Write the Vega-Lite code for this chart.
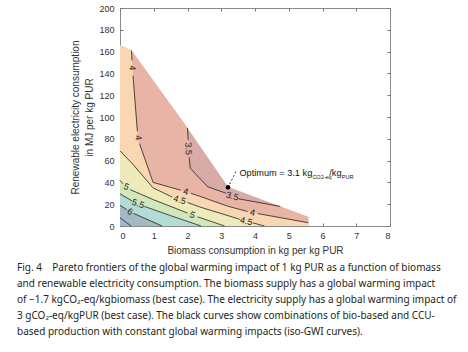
{
  "$schema": "https://vega.github.io/schema/vega-lite/v6.json",
  "width": 270,
  "height": 218,
  "autosize": {"type": "none"},
  "padding": {"left": 120, "top": 8, "right": 78, "bottom": 126},
  "background": "white",
  "config": {
    "view": {"stroke": "#8a8a8a", "strokeWidth": 1},
    "font": "Liberation Sans"
  },
  "title": {
    "text": "Fig. 4\u00a0\u00a0\u00a0\u00a0Pareto frontiers of the global warming impact of 1 kg PUR as a function of biomass",
    "subtitle": [
      "and renewable electricity consumption. The biomass supply has a global warming impact",
      "of \u22121.7 kgCO\u2082-eq/kgbiomass (best case). The electricity supply has a global warming impact of",
      "3 gCO\u2082-eq/kgPUR (best case). The black curves show combinations of bio-based and CCU-",
      "based production with constant global warming impacts (iso-GWI curves)."
    ],
    "orient": "bottom",
    "anchor": "start",
    "frame": "group",
    "dx": -103,
    "offset": 8,
    "font": "Noto Sans",
    "fontSize": 10,
    "fontWeight": "normal",
    "color": "#231f20",
    "subtitleFont": "Noto Sans",
    "subtitleFontSize": 10,
    "subtitleColor": "#231f20",
    "subtitleLineHeight": 16,
    "subtitlePadding": 6
  },
  "datasets": {
    "bands": [
      {"b": "b0", "x": 0, "y": 166}, {"b": "b0", "x": 0.34, "y": 161}, {"b": "b0", "x": 2.0, "y": 90}, {"b": "b0", "x": 3.2, "y": 36}, {"b": "b0", "x": 5.58, "y": 8.3},
      {"b": "b35", "x": 0, "y": 166}, {"b": "b35", "x": 0.34, "y": 161}, {"b": "b35", "x": 2.0, "y": 90}, {"b": "b35", "x": 2.04, "y": 71}, {"b": "b35", "x": 2.08, "y": 53}, {"b": "b35", "x": 2.6, "y": 36}, {"b": "b35", "x": 3.15, "y": 30}, {"b": "b35", "x": 3.5, "y": 25}, {"b": "b35", "x": 4.75, "y": 18}, {"b": "b35", "x": 5.58, "y": 8.3},
      {"b": "b4", "x": 0, "y": 166}, {"b": "b4", "x": 0.34, "y": 161}, {"b": "b4", "x": 0.37, "y": 145}, {"b": "b4", "x": 0.53, "y": 79}, {"b": "b4", "x": 0.98, "y": 40}, {"b": "b4", "x": 1.95, "y": 31.5}, {"b": "b4", "x": 2.36, "y": 27.3}, {"b": "b4", "x": 3.2, "y": 18.1}, {"b": "b4", "x": 3.93, "y": 12.3}, {"b": "b4", "x": 5.58, "y": 3},
      {"b": "b45", "x": 0, "y": 69}, {"b": "b45", "x": 0.4, "y": 56}, {"b": "b45", "x": 0.98, "y": 35}, {"b": "b45", "x": 1.77, "y": 24.3}, {"b": "b45", "x": 2.36, "y": 17.5}, {"b": "b45", "x": 3.2, "y": 9.5}, {"b": "b45", "x": 3.74, "y": 4.3}, {"b": "b45", "x": 4.28, "y": 0},
      {"b": "b5", "x": 0, "y": 42}, {"b": "b5", "x": 0.19, "y": 35}, {"b": "b5", "x": 1.0, "y": 24}, {"b": "b5", "x": 2.15, "y": 10}, {"b": "b5", "x": 3.1, "y": 0},
      {"b": "b55", "x": 0, "y": 29.5}, {"b": "b55", "x": 0.53, "y": 20}, {"b": "b55", "x": 1.5, "y": 9.5}, {"b": "b55", "x": 2.4, "y": 0},
      {"b": "b6", "x": 0, "y": 19}, {"b": "b6", "x": 0.3, "y": 13}, {"b": "b6", "x": 1.25, "y": 0},
      {"b": "b65", "x": 0, "y": 7.5}, {"b": "b65", "x": 0.33, "y": 0}
    ],
    "lines": [
      {"s": "c35a", "i": 1, "x": 2.0, "y": 90}, {"s": "c35a", "i": 2, "x": 2.02, "y": 79},
      {"s": "c35b", "i": 1, "x": 2.05, "y": 63}, {"s": "c35b", "i": 2, "x": 2.08, "y": 53}, {"s": "c35b", "i": 3, "x": 2.6, "y": 36}, {"s": "c35b", "i": 4, "x": 3.15, "y": 30},
      {"s": "c35c", "i": 1, "x": 3.5, "y": 25}, {"s": "c35c", "i": 2, "x": 4.75, "y": 18},
      {"s": "c4a", "i": 1, "x": 0.34, "y": 161}, {"s": "c4a", "i": 2, "x": 0.355, "y": 152},
      {"s": "c4b", "i": 1, "x": 0.385, "y": 138}, {"s": "c4b", "i": 2, "x": 0.515, "y": 87},
      {"s": "c4c", "i": 1, "x": 0.58, "y": 75.5}, {"s": "c4c", "i": 2, "x": 0.98, "y": 40}, {"s": "c4c", "i": 3, "x": 1.8, "y": 32.8},
      {"s": "c4d", "i": 1, "x": 2.1, "y": 30}, {"s": "c4d", "i": 2, "x": 2.36, "y": 27.3}, {"s": "c4d", "i": 3, "x": 3.2, "y": 18.1}, {"s": "c4d", "i": 4, "x": 3.78, "y": 13.3},
      {"s": "c4e", "i": 1, "x": 4.08, "y": 11.4}, {"s": "c4e", "i": 2, "x": 5.58, "y": 3},
      {"s": "c45a", "i": 1, "x": 0, "y": 69}, {"s": "c45a", "i": 2, "x": 0.4, "y": 56}, {"s": "c45a", "i": 3, "x": 0.98, "y": 35}, {"s": "c45a", "i": 4, "x": 1.55, "y": 26.5},
      {"s": "c45b", "i": 1, "x": 2.0, "y": 21.6}, {"s": "c45b", "i": 2, "x": 2.36, "y": 17.5}, {"s": "c45b", "i": 3, "x": 3.2, "y": 9.5}, {"s": "c45b", "i": 4, "x": 3.55, "y": 6.1},
      {"s": "c45c", "i": 1, "x": 3.93, "y": 2.9}, {"s": "c45c", "i": 2, "x": 4.28, "y": 0},
      {"s": "c5a", "i": 1, "x": 0, "y": 42}, {"s": "c5a", "i": 2, "x": 0.09, "y": 38.7},
      {"s": "c5b", "i": 1, "x": 0.3, "y": 33.4}, {"s": "c5b", "i": 2, "x": 1.0, "y": 24}, {"s": "c5b", "i": 3, "x": 2.0, "y": 11.9},
      {"s": "c5c", "i": 1, "x": 2.3, "y": 8.4}, {"s": "c5c", "i": 2, "x": 3.1, "y": 0},
      {"s": "c55a", "i": 1, "x": 0, "y": 29.5}, {"s": "c55a", "i": 2, "x": 0.36, "y": 23},
      {"s": "c55b", "i": 1, "x": 0.72, "y": 18}, {"s": "c55b", "i": 2, "x": 1.5, "y": 9.5}, {"s": "c55b", "i": 3, "x": 2.4, "y": 0},
      {"s": "c6a", "i": 1, "x": 0, "y": 19}, {"s": "c6a", "i": 2, "x": 0.2, "y": 15},
      {"s": "c6b", "i": 1, "x": 0.4, "y": 11.6}, {"s": "c6b", "i": 2, "x": 1.25, "y": 0},
      {"s": "c65", "i": 1, "x": 0, "y": 7.5}, {"s": "c65", "i": 2, "x": 0.33, "y": 0}
    ],
    "labels": [
      {"t": "4", "x": 0.365, "y": 145, "a": 88},
      {"t": "4", "x": 0.545, "y": 81, "a": 80},
      {"t": "3.5", "x": 2.03, "y": 71, "a": 88},
      {"t": "3.5", "x": 3.33, "y": 27.5, "a": 16},
      {"t": "4", "x": 1.95, "y": 31.5, "a": 12},
      {"t": "4", "x": 3.93, "y": 12.3, "a": 12},
      {"t": "4.5", "x": 1.77, "y": 24, "a": 18},
      {"t": "4.5", "x": 3.74, "y": 4.5, "a": 14},
      {"t": "5", "x": 0.19, "y": 36, "a": 22},
      {"t": "5", "x": 2.15, "y": 10.2, "a": 22},
      {"t": "5.5", "x": 0.54, "y": 20.5, "a": 18},
      {"t": "6", "x": 0.3, "y": 13.3, "a": 25}
    ],
    "optimum": [{"x": 3.2, "y": 35.5}],
    "leader": [{"x": 3.25, "y": 38.5, "x2": 3.46, "y2": 51.5}],
    "optMain": [
      {"t": "Optimum = 3.1 kg", "x": 3.54, "y": 48.7},
      {"t": "/kg", "x": 6.2, "y": 48.7}
    ],
    "optSub": [
      {"t": "CO2-eq", "x": 5.7, "y": 45.3},
      {"t": "PUR", "x": 6.57, "y": 45.3}
    ]
  },
  "layer": [
    {
      "encoding": {
        "x": {"field": "x", "type": "quantitative", "scale": {"domain": [0, 8], "nice": false},
          "axis": {"orient": "bottom", "values": [0, 1, 2, 3, 4, 5, 6, 7, 8], "domain": false, "grid": false,
            "tickSize": -3, "tickColor": "#777", "labelPadding": 8, "labelFontSize": 9, "labelColor": "#333", "labelFont": "Liberation Sans",
            "title": "Biomass consumption in kg per kg PUR", "titleFontSize": 10, "titleFontWeight": "normal", "titleColor": "#333", "titleFont": "Liberation Sans", "titlePadding": 5}},
        "y": {"field": "y", "type": "quantitative", "scale": {"domain": [0, 200], "nice": false},
          "axis": {"orient": "left", "values": [0, 20, 40, 60, 80, 100, 120, 140, 160, 180, 200], "domain": false, "grid": false,
            "tickSize": -3, "tickColor": "#777", "labelPadding": 9, "labelFontSize": 9, "labelColor": "#333", "labelFont": "Liberation Sans",
            "title": ["Renewable electricity consumption", "in MJ per kg PUR"], "titleFontSize": 10, "titleFontWeight": "normal", "titleColor": "#333", "titleFont": "Liberation Sans", "titlePadding": 4, "titleLineHeight": 14}}
      },
      "layer": [
        {"data": {"name": "bands"}, "transform": [{"filter": "datum.b == 'b0'"}], "mark": {"type": "area", "color": "#d8aaa8", "opacity": 1}, "encoding": {"y2": {"datum": 0}}},
        {"data": {"name": "bands"}, "transform": [{"filter": "datum.b == 'b35'"}], "mark": {"type": "area", "color": "#e7b4a5", "opacity": 1}, "encoding": {"y2": {"datum": 0}}},
        {"data": {"name": "bands"}, "transform": [{"filter": "datum.b == 'b4'"}], "mark": {"type": "area", "color": "#f9d7b3", "opacity": 1}, "encoding": {"y2": {"datum": 0}}},
        {"data": {"name": "bands"}, "transform": [{"filter": "datum.b == 'b45'"}], "mark": {"type": "area", "color": "#eeeab9", "opacity": 1}, "encoding": {"y2": {"datum": 0}}},
        {"data": {"name": "bands"}, "transform": [{"filter": "datum.b == 'b5'"}], "mark": {"type": "area", "color": "#d2e7bb", "opacity": 1}, "encoding": {"y2": {"datum": 0}}},
        {"data": {"name": "bands"}, "transform": [{"filter": "datum.b == 'b55'"}], "mark": {"type": "area", "color": "#b2dcd5", "opacity": 1}, "encoding": {"y2": {"datum": 0}}},
        {"data": {"name": "bands"}, "transform": [{"filter": "datum.b == 'b6'"}], "mark": {"type": "area", "color": "#a5b9c2", "opacity": 1}, "encoding": {"y2": {"datum": 0}}},
        {"data": {"name": "bands"}, "transform": [{"filter": "datum.b == 'b65'"}], "mark": {"type": "area", "color": "#9fb6df", "opacity": 1}, "encoding": {"y2": {"datum": 0}}},
        {"data": {"name": "lines"}, "mark": {"type": "line", "color": "#222", "strokeWidth": 0.8}, "encoding": {"detail": {"field": "s"}, "order": {"field": "i", "type": "quantitative"}}},
        {"data": {"name": "labels"}, "mark": {"type": "text", "fontSize": 9, "color": "#222", "font": "Liberation Sans", "baseline": "middle", "align": "center"},
          "encoding": {"text": {"field": "t"}, "angle": {"field": "a", "type": "quantitative", "scale": null}}},
        {"data": {"name": "leader"}, "mark": {"type": "rule", "color": "#111", "strokeWidth": 0.8, "strokeDash": [2, 2]}, "encoding": {"x2": {"field": "x2"}, "y2": {"field": "y2"}}},
        {"data": {"name": "optMain"}, "mark": {"type": "text", "fontSize": 9.2, "color": "#111", "align": "left", "baseline": "middle", "font": "Liberation Sans"}, "encoding": {"text": {"field": "t"}}},
        {"data": {"name": "optSub"}, "mark": {"type": "text", "fontSize": 5.5, "color": "#111", "align": "left", "baseline": "middle", "font": "Liberation Sans"}, "encoding": {"text": {"field": "t"}}}
      ]
    },
    {
      "data": {"name": "optimum"},
      "mark": {"type": "point", "filled": true, "color": "#000", "size": 22, "opacity": 1},
      "encoding": {
        "x": {"field": "x", "type": "quantitative", "scale": {"domain": [0, 8], "nice": false},
          "axis": {"orient": "top", "values": [0, 1, 2, 3, 4, 5, 6, 7, 8], "domain": false, "grid": false, "labels": false, "tickSize": -3, "tickColor": "#777", "title": null}},
        "y": {"field": "y", "type": "quantitative", "scale": {"domain": [0, 200], "nice": false},
          "axis": {"orient": "right", "values": [0, 20, 40, 60, 80, 100, 120, 140, 160, 180, 200], "domain": false, "grid": false, "labels": false, "tickSize": -3, "tickColor": "#777", "title": null}}
      }
    }
  ],
  "resolve": {"axis": {"x": "independent", "y": "independent"}}
}
